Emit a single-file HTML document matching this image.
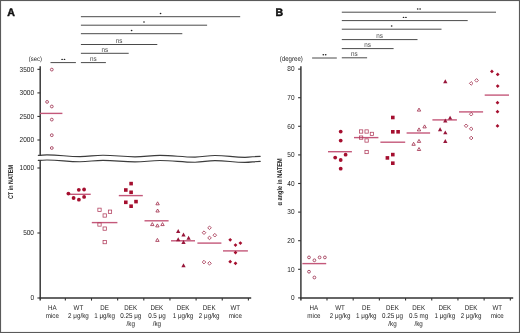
<!DOCTYPE html>
<html><head><meta charset="utf-8">
<style>
html,body{margin:0;padding:0;background:#fff;}
body{width:520px;height:333px;overflow:hidden;}
svg{display:block;font-family:"Liberation Sans",sans-serif;text-rendering:geometricPrecision;}
svg{will-change:transform;filter:blur(0.25px);}
</style></head>
<body>
<svg width="520" height="333" viewBox="0 0 520 333">
<rect x="0.5" y="0.5" width="519" height="332" fill="#fff" stroke="#5a5a5a" stroke-width="1.15"/>
<line x1="40.2" y1="66.3" x2="40.2" y2="155.3" stroke="#333" stroke-width="1.45"/>
<line x1="40.2" y1="160.3" x2="40.2" y2="300.4" stroke="#333" stroke-width="1.45"/>
<line x1="39.550000000000004" y1="298.0" x2="251.2" y2="298.0" stroke="#333" stroke-width="1.45"/>
<line x1="65.35" y1="298.0" x2="65.35" y2="300.6" stroke="#333" stroke-width="1.1"/>
<line x1="91.5" y1="298.0" x2="91.5" y2="300.6" stroke="#333" stroke-width="1.1"/>
<line x1="117.64999999999999" y1="298.0" x2="117.64999999999999" y2="300.6" stroke="#333" stroke-width="1.1"/>
<line x1="143.8" y1="298.0" x2="143.8" y2="300.6" stroke="#333" stroke-width="1.1"/>
<line x1="169.95" y1="298.0" x2="169.95" y2="300.6" stroke="#333" stroke-width="1.1"/>
<line x1="196.09999999999997" y1="298.0" x2="196.09999999999997" y2="300.6" stroke="#333" stroke-width="1.1"/>
<line x1="222.25" y1="298.0" x2="222.25" y2="300.6" stroke="#333" stroke-width="1.1"/>
<line x1="248.39999999999998" y1="298.0" x2="248.39999999999998" y2="300.6" stroke="#333" stroke-width="1.1"/>
<line x1="37.400000000000006" y1="140.0" x2="40.2" y2="140.0" stroke="#333" stroke-width="1.1"/>
<text transform="translate(34.00,142.35) scale(1,1.12)" font-size="6.5" text-anchor="end" font-weight="normal" fill="#222" >2000</text>
<line x1="37.400000000000006" y1="116.45" x2="40.2" y2="116.45" stroke="#333" stroke-width="1.1"/>
<text transform="translate(34.00,118.80) scale(1,1.12)" font-size="6.5" text-anchor="end" font-weight="normal" fill="#222" >2500</text>
<line x1="37.400000000000006" y1="92.9" x2="40.2" y2="92.9" stroke="#333" stroke-width="1.1"/>
<text transform="translate(34.00,95.25) scale(1,1.12)" font-size="6.5" text-anchor="end" font-weight="normal" fill="#222" >3000</text>
<line x1="37.400000000000006" y1="69.35" x2="40.2" y2="69.35" stroke="#333" stroke-width="1.1"/>
<text transform="translate(34.00,71.70) scale(1,1.12)" font-size="6.5" text-anchor="end" font-weight="normal" fill="#222" >3500</text>
<line x1="37.400000000000006" y1="298.0" x2="40.2" y2="298.0" stroke="#333" stroke-width="1.1"/>
<text transform="translate(34.00,300.35) scale(1,1.12)" font-size="6.5" text-anchor="end" font-weight="normal" fill="#222" >0</text>
<line x1="37.400000000000006" y1="233.0" x2="40.2" y2="233.0" stroke="#333" stroke-width="1.1"/>
<text transform="translate(34.00,235.35) scale(1,1.12)" font-size="6.5" text-anchor="end" font-weight="normal" fill="#222" >500</text>
<line x1="37.400000000000006" y1="168.0" x2="40.2" y2="168.0" stroke="#333" stroke-width="1.1"/>
<text transform="translate(34.00,170.35) scale(1,1.12)" font-size="6.5" text-anchor="end" font-weight="normal" fill="#222" >1000</text>
<text transform="translate(35.40,61.30) scale(1,1.12)" font-size="5.9" text-anchor="middle" font-weight="normal" fill="#222" >(sec)</text>
<path d="M38.30,155.30 C41.78,155.30 43.52,154.90 47.00,154.90 C60.20,154.90 66.80,156.60 80.00,156.60 C89.20,156.60 93.80,155.20 103.00,155.20 C115.80,155.20 122.20,156.80 135.00,156.80 C145.00,156.80 150.00,155.40 160.00,155.40 C174.00,155.40 181.00,157.10 195.00,157.10 C203.00,157.10 207.00,155.50 215.00,155.50 C227.00,155.50 233.00,157.30 245.00,157.30 C251.08,157.30 254.12,156.30 260.20,156.30" fill="none" stroke="#3c3c3c" stroke-width="1.15" stroke-linecap="round"/>
<path d="M38.30,160.40 C41.78,160.40 43.52,160.00 47.00,160.00 C60.20,160.00 66.80,161.70 80.00,161.70 C89.20,161.70 93.80,160.30 103.00,160.30 C115.80,160.30 122.20,161.90 135.00,161.90 C145.00,161.90 150.00,160.50 160.00,160.50 C174.00,160.50 181.00,162.20 195.00,162.20 C203.00,162.20 207.00,160.60 215.00,160.60 C227.00,160.60 233.00,162.40 245.00,162.40 C251.08,162.40 254.12,161.40 260.20,161.40" fill="none" stroke="#3c3c3c" stroke-width="1.15" stroke-linecap="round"/>
<text transform="translate(7.30,16.30) scale(1,1.03)" font-size="10.6" text-anchor="start" font-weight="bold" fill="#111" stroke="#111" stroke-width="0.45">A</text>
<text transform="translate(13.3,182.1) rotate(-90) scale(0.8,1)" font-size="6.8" text-anchor="middle" font-weight="bold" fill="#222">CT in NATEM</text>
<text transform="translate(52.28,309.80) scale(1,1.12)" font-size="6.2" text-anchor="middle" font-weight="normal" fill="#222" >HA</text>
<text transform="translate(52.28,317.90) scale(1,1.12)" font-size="6.25" text-anchor="middle" font-weight="normal" fill="#222" >mice</text>
<text transform="translate(78.43,309.80) scale(1,1.12)" font-size="6.2" text-anchor="middle" font-weight="normal" fill="#222" >WT</text>
<text transform="translate(78.43,317.90) scale(1,1.12)" font-size="6.25" text-anchor="middle" font-weight="normal" fill="#222" >2 μg/kg</text>
<text transform="translate(104.58,309.80) scale(1,1.12)" font-size="6.2" text-anchor="middle" font-weight="normal" fill="#222" >DE</text>
<text transform="translate(104.58,317.90) scale(1,1.12)" font-size="6.25" text-anchor="middle" font-weight="normal" fill="#222" >1 μg/kg</text>
<text transform="translate(130.73,309.80) scale(1,1.12)" font-size="6.2" text-anchor="middle" font-weight="normal" fill="#222" >DEK</text>
<text transform="translate(130.73,317.90) scale(1,1.12)" font-size="6.25" text-anchor="middle" font-weight="normal" fill="#222" >0.25 μg</text>
<text transform="translate(130.73,325.50) scale(1,1.12)" font-size="6.25" text-anchor="middle" font-weight="normal" fill="#222" >/kg</text>
<text transform="translate(156.88,309.80) scale(1,1.12)" font-size="6.2" text-anchor="middle" font-weight="normal" fill="#222" >DEK</text>
<text transform="translate(156.88,317.90) scale(1,1.12)" font-size="6.25" text-anchor="middle" font-weight="normal" fill="#222" >0.5 μg</text>
<text transform="translate(156.88,325.50) scale(1,1.12)" font-size="6.25" text-anchor="middle" font-weight="normal" fill="#222" >/kg</text>
<text transform="translate(183.03,309.80) scale(1,1.12)" font-size="6.2" text-anchor="middle" font-weight="normal" fill="#222" >DEK</text>
<text transform="translate(183.03,317.90) scale(1,1.12)" font-size="6.25" text-anchor="middle" font-weight="normal" fill="#222" >1 μg/kg</text>
<text transform="translate(209.18,309.80) scale(1,1.12)" font-size="6.2" text-anchor="middle" font-weight="normal" fill="#222" >DEK</text>
<text transform="translate(209.18,317.90) scale(1,1.12)" font-size="6.25" text-anchor="middle" font-weight="normal" fill="#222" >2 μg/kg</text>
<text transform="translate(235.33,309.80) scale(1,1.12)" font-size="6.2" text-anchor="middle" font-weight="normal" fill="#222" >WT</text>
<text transform="translate(235.33,317.90) scale(1,1.12)" font-size="6.25" text-anchor="middle" font-weight="normal" fill="#222" >mice</text>
<line x1="39.9" y1="113.4" x2="62.4" y2="113.4" stroke="#c4587a" stroke-width="1.4"/>
<circle cx="51.8" cy="69.6" r="1.4" fill="none" stroke="#9e3352" stroke-width="0.85"/>
<circle cx="47.1" cy="101.9" r="1.4" fill="none" stroke="#9e3352" stroke-width="0.85"/>
<circle cx="51.8" cy="106.5" r="1.4" fill="none" stroke="#9e3352" stroke-width="0.85"/>
<circle cx="51.8" cy="119.6" r="1.4" fill="none" stroke="#9e3352" stroke-width="0.85"/>
<circle cx="51.8" cy="135.2" r="1.4" fill="none" stroke="#9e3352" stroke-width="0.85"/>
<circle cx="51.8" cy="148.0" r="1.4" fill="none" stroke="#9e3352" stroke-width="0.85"/>
<line x1="67.2" y1="194.3" x2="90.7" y2="194.3" stroke="#c4587a" stroke-width="1.4"/>
<circle cx="68.4" cy="193.6" r="1.9" fill="#a50f2f"/>
<circle cx="78.8" cy="189.8" r="1.9" fill="#a50f2f"/>
<circle cx="84.1" cy="189.5" r="1.9" fill="#a50f2f"/>
<circle cx="73.6" cy="198.0" r="1.9" fill="#a50f2f"/>
<circle cx="78.9" cy="199.7" r="1.9" fill="#a50f2f"/>
<circle cx="84.1" cy="196.9" r="1.9" fill="#a50f2f"/>
<line x1="91.8" y1="222.6" x2="117.4" y2="222.6" stroke="#c4587a" stroke-width="1.4"/>
<rect x="97.85" y="208.15" width="3.3" height="3.3" fill="none" stroke="#b03a5a" stroke-width="0.75"/>
<rect x="108.35" y="210.04999999999998" width="3.3" height="3.3" fill="none" stroke="#b03a5a" stroke-width="0.75"/>
<rect x="103.05" y="213.85" width="3.3" height="3.3" fill="none" stroke="#b03a5a" stroke-width="0.75"/>
<rect x="97.85" y="222.85" width="3.3" height="3.3" fill="none" stroke="#b03a5a" stroke-width="0.75"/>
<rect x="103.05" y="226.95" width="3.3" height="3.3" fill="none" stroke="#b03a5a" stroke-width="0.75"/>
<rect x="103.05" y="240.45" width="3.3" height="3.3" fill="none" stroke="#b03a5a" stroke-width="0.75"/>
<line x1="118.8" y1="195.6" x2="142.8" y2="195.6" stroke="#c4587a" stroke-width="1.4"/>
<rect x="129.29999999999998" y="181.79999999999998" width="3.6" height="3.6" fill="#a50f2f"/>
<rect x="124.0" y="188.2" width="3.6" height="3.6" fill="#a50f2f"/>
<rect x="129.29999999999998" y="190.5" width="3.6" height="3.6" fill="#a50f2f"/>
<rect x="124.0" y="200.5" width="3.6" height="3.6" fill="#a50f2f"/>
<rect x="134.2" y="199.79999999999998" width="3.6" height="3.6" fill="#a50f2f"/>
<rect x="129.29999999999998" y="204.39999999999998" width="3.6" height="3.6" fill="#a50f2f"/>
<line x1="144.5" y1="220.8" x2="168.6" y2="220.8" stroke="#c4587a" stroke-width="1.4"/>
<path d="M155.9,204.8L157.6,201.8L159.29999999999998,204.8Z" fill="none" stroke="#a02848" stroke-width="0.8" stroke-linejoin="miter"/>
<path d="M155.9,212.0L157.6,209.0L159.29999999999998,212.0Z" fill="none" stroke="#a02848" stroke-width="0.8" stroke-linejoin="miter"/>
<path d="M150.60000000000002,225.6L152.3,222.6L154.0,225.6Z" fill="none" stroke="#a02848" stroke-width="0.8" stroke-linejoin="miter"/>
<path d="M155.70000000000002,226.9L157.4,223.9L159.1,226.9Z" fill="none" stroke="#a02848" stroke-width="0.8" stroke-linejoin="miter"/>
<path d="M160.8,225.6L162.5,222.6L164.2,225.6Z" fill="none" stroke="#a02848" stroke-width="0.8" stroke-linejoin="miter"/>
<path d="M155.70000000000002,241.4L157.4,238.4L159.1,241.4Z" fill="none" stroke="#a02848" stroke-width="0.8" stroke-linejoin="miter"/>
<line x1="171.0" y1="240.8" x2="195.0" y2="240.8" stroke="#c4587a" stroke-width="1.4"/>
<path d="M176.04999999999998,232.95L178.2,229.05L180.35,232.95Z" fill="#98163a"/>
<path d="M181.35,236.45L183.5,232.55L185.65,236.45Z" fill="#98163a"/>
<path d="M186.45,239.75L188.6,235.85000000000002L190.75,239.75Z" fill="#98163a"/>
<path d="M176.04999999999998,241.25L178.2,237.35000000000002L180.35,241.25Z" fill="#98163a"/>
<path d="M181.35,243.95L183.5,240.05L185.65,243.95Z" fill="#98163a"/>
<path d="M181.35,267.25L183.5,263.35L185.65,267.25Z" fill="#98163a"/>
<line x1="197.4" y1="243.1" x2="221.4" y2="243.1" stroke="#c4587a" stroke-width="1.4"/>
<path d="M209.5,226.0L211.3,227.8L209.5,229.60000000000002L207.7,227.8Z" fill="none" stroke="#a02848" stroke-width="0.8"/>
<path d="M204.0,230.89999999999998L205.8,232.7L204.0,234.5L202.2,232.7Z" fill="none" stroke="#a02848" stroke-width="0.8"/>
<path d="M214.8,233.39999999999998L216.60000000000002,235.2L214.8,237.0L213.0,235.2Z" fill="none" stroke="#a02848" stroke-width="0.8"/>
<path d="M209.5,236.1L211.3,237.9L209.5,239.70000000000002L207.7,237.9Z" fill="none" stroke="#a02848" stroke-width="0.8"/>
<path d="M204.0,260.3L205.8,262.1L204.0,263.90000000000003L202.2,262.1Z" fill="none" stroke="#a02848" stroke-width="0.8"/>
<path d="M209.5,261.5L211.3,263.3L209.5,265.1L207.7,263.3Z" fill="none" stroke="#a02848" stroke-width="0.8"/>
<line x1="223.0" y1="250.9" x2="247.9" y2="250.9" stroke="#c4587a" stroke-width="1.4"/>
<path d="M230.2,237.9L232.1,239.8L230.2,241.70000000000002L228.29999999999998,239.8Z" fill="#a50f2f"/>
<path d="M240.4,241.2L242.3,243.1L240.4,245.0L238.5,243.1Z" fill="#a50f2f"/>
<path d="M235.5,243.2L237.4,245.1L235.5,247.0L233.6,245.1Z" fill="#a50f2f"/>
<path d="M235.5,250.7L237.4,252.6L235.5,254.5L233.6,252.6Z" fill="#a50f2f"/>
<path d="M230.2,259.8L232.1,261.7L230.2,263.59999999999997L228.29999999999998,261.7Z" fill="#a50f2f"/>
<path d="M235.5,261.40000000000003L237.4,263.3L235.5,265.2L233.6,263.3Z" fill="#a50f2f"/>
<line x1="50.5" y1="62.6" x2="75.9" y2="62.6" stroke="#4a4a4a" stroke-width="1.0"/>
<ellipse cx="62.10" cy="59.40" rx="0.85" ry="0.7" fill="#222"/>
<ellipse cx="64.50" cy="59.40" rx="0.85" ry="0.7" fill="#222"/>
<line x1="80.9" y1="16.7" x2="240.2" y2="16.7" stroke="#4a4a4a" stroke-width="1.0"/>
<ellipse cx="160.55" cy="13.50" rx="0.85" ry="0.7" fill="#222"/>
<line x1="80.9" y1="25.2" x2="207.1" y2="25.2" stroke="#4a4a4a" stroke-width="1.0"/>
<ellipse cx="144.00" cy="22.00" rx="0.85" ry="0.7" fill="#222"/>
<line x1="80.9" y1="33.7" x2="182.3" y2="33.7" stroke="#4a4a4a" stroke-width="1.0"/>
<ellipse cx="131.60" cy="30.50" rx="0.85" ry="0.7" fill="#222"/>
<line x1="80.9" y1="44.5" x2="157.3" y2="44.5" stroke="#4a4a4a" stroke-width="1.0"/>
<text transform="translate(119.10,42.75) scale(1,1.12)" font-size="6.3" text-anchor="middle" font-weight="normal" fill="#484848" >ns</text>
<line x1="80.9" y1="53.3" x2="128.7" y2="53.3" stroke="#4a4a4a" stroke-width="1.0"/>
<text transform="translate(104.80,51.55) scale(1,1.12)" font-size="6.3" text-anchor="middle" font-weight="normal" fill="#484848" >ns</text>
<line x1="80.9" y1="62.6" x2="105.9" y2="62.6" stroke="#4a4a4a" stroke-width="1.0"/>
<text transform="translate(93.40,60.85) scale(1,1.12)" font-size="6.3" text-anchor="middle" font-weight="normal" fill="#484848" >ns</text>
<line x1="300.9" y1="66.3" x2="300.9" y2="300.4" stroke="#333" stroke-width="1.45"/>
<line x1="300.25" y1="298.0" x2="513.2" y2="298.0" stroke="#333" stroke-width="1.45"/>
<line x1="326.99" y1="298.0" x2="326.99" y2="300.6" stroke="#333" stroke-width="1.1"/>
<line x1="353.18" y1="298.0" x2="353.18" y2="300.6" stroke="#333" stroke-width="1.1"/>
<line x1="379.37" y1="298.0" x2="379.37" y2="300.6" stroke="#333" stroke-width="1.1"/>
<line x1="405.56" y1="298.0" x2="405.56" y2="300.6" stroke="#333" stroke-width="1.1"/>
<line x1="431.75" y1="298.0" x2="431.75" y2="300.6" stroke="#333" stroke-width="1.1"/>
<line x1="457.94000000000005" y1="298.0" x2="457.94000000000005" y2="300.6" stroke="#333" stroke-width="1.1"/>
<line x1="484.13" y1="298.0" x2="484.13" y2="300.6" stroke="#333" stroke-width="1.1"/>
<line x1="510.32000000000005" y1="298.0" x2="510.32000000000005" y2="300.6" stroke="#333" stroke-width="1.1"/>
<line x1="298.09999999999997" y1="297.9" x2="300.9" y2="297.9" stroke="#333" stroke-width="1.1"/>
<text transform="translate(294.60,300.25) scale(1,1.12)" font-size="6.5" text-anchor="end" font-weight="normal" fill="#222" >0</text>
<line x1="298.09999999999997" y1="269.29999999999995" x2="300.9" y2="269.29999999999995" stroke="#333" stroke-width="1.1"/>
<text transform="translate(294.60,271.65) scale(1,1.12)" font-size="6.5" text-anchor="end" font-weight="normal" fill="#222" >10</text>
<line x1="298.09999999999997" y1="240.7" x2="300.9" y2="240.7" stroke="#333" stroke-width="1.1"/>
<text transform="translate(294.60,243.05) scale(1,1.12)" font-size="6.5" text-anchor="end" font-weight="normal" fill="#222" >20</text>
<line x1="298.09999999999997" y1="212.09999999999997" x2="300.9" y2="212.09999999999997" stroke="#333" stroke-width="1.1"/>
<text transform="translate(294.60,214.45) scale(1,1.12)" font-size="6.5" text-anchor="end" font-weight="normal" fill="#222" >30</text>
<line x1="298.09999999999997" y1="183.5" x2="300.9" y2="183.5" stroke="#333" stroke-width="1.1"/>
<text transform="translate(294.60,185.85) scale(1,1.12)" font-size="6.5" text-anchor="end" font-weight="normal" fill="#222" >40</text>
<line x1="298.09999999999997" y1="154.89999999999998" x2="300.9" y2="154.89999999999998" stroke="#333" stroke-width="1.1"/>
<text transform="translate(294.60,157.25) scale(1,1.12)" font-size="6.5" text-anchor="end" font-weight="normal" fill="#222" >50</text>
<line x1="298.09999999999997" y1="126.29999999999998" x2="300.9" y2="126.29999999999998" stroke="#333" stroke-width="1.1"/>
<text transform="translate(294.60,128.65) scale(1,1.12)" font-size="6.5" text-anchor="end" font-weight="normal" fill="#222" >60</text>
<line x1="298.09999999999997" y1="97.69999999999999" x2="300.9" y2="97.69999999999999" stroke="#333" stroke-width="1.1"/>
<text transform="translate(294.60,100.05) scale(1,1.12)" font-size="6.5" text-anchor="end" font-weight="normal" fill="#222" >70</text>
<line x1="298.09999999999997" y1="69.1" x2="300.9" y2="69.1" stroke="#333" stroke-width="1.1"/>
<text transform="translate(294.60,71.45) scale(1,1.12)" font-size="6.5" text-anchor="end" font-weight="normal" fill="#222" >80</text>
<text transform="translate(291.30,60.90) scale(1,1.12)" font-size="6.1" text-anchor="middle" font-weight="normal" fill="#222" >(degree)</text>
<text transform="translate(275.60,16.30) scale(1,1.03)" font-size="10.6" text-anchor="start" font-weight="bold" fill="#111" stroke="#111" stroke-width="0.45">B</text>
<text transform="translate(282.4,181.9) rotate(-90) scale(0.8,1)" font-size="7.0" text-anchor="middle" font-weight="bold" fill="#222">α angle in NATEM</text>
<text transform="translate(313.90,309.80) scale(1,1.12)" font-size="6.2" text-anchor="middle" font-weight="normal" fill="#222" >HA</text>
<text transform="translate(313.90,317.90) scale(1,1.12)" font-size="6.25" text-anchor="middle" font-weight="normal" fill="#222" >mice</text>
<text transform="translate(340.09,309.80) scale(1,1.12)" font-size="6.2" text-anchor="middle" font-weight="normal" fill="#222" >WT</text>
<text transform="translate(340.09,317.90) scale(1,1.12)" font-size="6.25" text-anchor="middle" font-weight="normal" fill="#222" >2 μg/kg</text>
<text transform="translate(366.28,309.80) scale(1,1.12)" font-size="6.2" text-anchor="middle" font-weight="normal" fill="#222" >DE</text>
<text transform="translate(366.28,317.90) scale(1,1.12)" font-size="6.25" text-anchor="middle" font-weight="normal" fill="#222" >1 μg/kg</text>
<text transform="translate(392.47,309.80) scale(1,1.12)" font-size="6.2" text-anchor="middle" font-weight="normal" fill="#222" >DEK</text>
<text transform="translate(392.47,317.90) scale(1,1.12)" font-size="6.25" text-anchor="middle" font-weight="normal" fill="#222" >0.25 μg</text>
<text transform="translate(392.47,325.50) scale(1,1.12)" font-size="6.25" text-anchor="middle" font-weight="normal" fill="#222" >/kg</text>
<text transform="translate(418.66,309.80) scale(1,1.12)" font-size="6.2" text-anchor="middle" font-weight="normal" fill="#222" >DEK</text>
<text transform="translate(418.66,317.90) scale(1,1.12)" font-size="6.25" text-anchor="middle" font-weight="normal" fill="#222" >0.5 mg</text>
<text transform="translate(418.66,325.50) scale(1,1.12)" font-size="6.25" text-anchor="middle" font-weight="normal" fill="#222" >/kg</text>
<text transform="translate(444.85,309.80) scale(1,1.12)" font-size="6.2" text-anchor="middle" font-weight="normal" fill="#222" >DEK</text>
<text transform="translate(444.85,317.90) scale(1,1.12)" font-size="6.25" text-anchor="middle" font-weight="normal" fill="#222" >1 μg/kg</text>
<text transform="translate(471.04,309.80) scale(1,1.12)" font-size="6.2" text-anchor="middle" font-weight="normal" fill="#222" >DEK</text>
<text transform="translate(471.04,317.90) scale(1,1.12)" font-size="6.25" text-anchor="middle" font-weight="normal" fill="#222" >2 μg/kg</text>
<text transform="translate(497.23,309.80) scale(1,1.12)" font-size="6.2" text-anchor="middle" font-weight="normal" fill="#222" >WT</text>
<text transform="translate(497.23,317.90) scale(1,1.12)" font-size="6.25" text-anchor="middle" font-weight="normal" fill="#222" >mice</text>
<line x1="302.4" y1="263.6" x2="326.2" y2="263.6" stroke="#c4587a" stroke-width="1.4"/>
<circle cx="309.0" cy="257.4" r="1.4" fill="none" stroke="#9e3352" stroke-width="0.85"/>
<circle cx="314.4" cy="260.3" r="1.4" fill="none" stroke="#9e3352" stroke-width="0.85"/>
<circle cx="319.6" cy="257.4" r="1.4" fill="none" stroke="#9e3352" stroke-width="0.85"/>
<circle cx="324.9" cy="257.4" r="1.4" fill="none" stroke="#9e3352" stroke-width="0.85"/>
<circle cx="309.0" cy="271.7" r="1.4" fill="none" stroke="#9e3352" stroke-width="0.85"/>
<circle cx="314.4" cy="277.5" r="1.4" fill="none" stroke="#9e3352" stroke-width="0.85"/>
<line x1="328.0" y1="151.7" x2="351.9" y2="151.7" stroke="#c4587a" stroke-width="1.4"/>
<circle cx="340.7" cy="131.6" r="1.9" fill="#a50f2f"/>
<circle cx="340.7" cy="140.6" r="1.9" fill="#a50f2f"/>
<circle cx="345.6" cy="154.7" r="1.9" fill="#a50f2f"/>
<circle cx="335.2" cy="157.6" r="1.9" fill="#a50f2f"/>
<circle cx="340.7" cy="160.0" r="1.9" fill="#a50f2f"/>
<circle cx="340.7" cy="168.7" r="1.9" fill="#a50f2f"/>
<line x1="354.0" y1="137.6" x2="378.4" y2="137.6" stroke="#c4587a" stroke-width="1.4"/>
<rect x="359.45000000000005" y="129.85" width="3.3" height="3.3" fill="none" stroke="#b03a5a" stroke-width="0.75"/>
<rect x="364.95000000000005" y="129.85" width="3.3" height="3.3" fill="none" stroke="#b03a5a" stroke-width="0.75"/>
<rect x="370.25" y="132.25" width="3.3" height="3.3" fill="none" stroke="#b03a5a" stroke-width="0.75"/>
<rect x="359.45000000000005" y="135.95" width="3.3" height="3.3" fill="none" stroke="#b03a5a" stroke-width="0.75"/>
<rect x="364.95000000000005" y="138.85" width="3.3" height="3.3" fill="none" stroke="#b03a5a" stroke-width="0.75"/>
<rect x="364.95000000000005" y="150.35" width="3.3" height="3.3" fill="none" stroke="#b03a5a" stroke-width="0.75"/>
<line x1="380.4" y1="142.2" x2="405.2" y2="142.2" stroke="#c4587a" stroke-width="1.4"/>
<rect x="391.0" y="115.7" width="3.6" height="3.6" fill="#a50f2f"/>
<rect x="391.0" y="130.0" width="3.6" height="3.6" fill="#a50f2f"/>
<rect x="396.3" y="130.0" width="3.6" height="3.6" fill="#a50f2f"/>
<rect x="391.0" y="152.79999999999998" width="3.6" height="3.6" fill="#a50f2f"/>
<rect x="385.59999999999997" y="156.1" width="3.6" height="3.6" fill="#a50f2f"/>
<rect x="391.0" y="161.39999999999998" width="3.6" height="3.6" fill="#a50f2f"/>
<line x1="406.6" y1="133.0" x2="430.1" y2="133.0" stroke="#c4587a" stroke-width="1.4"/>
<path d="M417.3,111.1L419.0,108.1L420.7,111.1Z" fill="none" stroke="#a02848" stroke-width="0.8" stroke-linejoin="miter"/>
<path d="M422.90000000000003,127.9L424.6,124.9L426.3,127.9Z" fill="none" stroke="#a02848" stroke-width="0.8" stroke-linejoin="miter"/>
<path d="M417.3,130.9L419.0,127.9L420.7,130.9Z" fill="none" stroke="#a02848" stroke-width="0.8" stroke-linejoin="miter"/>
<path d="M417.3,142.4L419.0,139.4L420.7,142.4Z" fill="none" stroke="#a02848" stroke-width="0.8" stroke-linejoin="miter"/>
<path d="M411.90000000000003,145.3L413.6,142.3L415.3,145.3Z" fill="none" stroke="#a02848" stroke-width="0.8" stroke-linejoin="miter"/>
<path d="M417.3,150.5L419.0,147.5L420.7,150.5Z" fill="none" stroke="#a02848" stroke-width="0.8" stroke-linejoin="miter"/>
<line x1="432.4" y1="119.9" x2="456.9" y2="119.9" stroke="#c4587a" stroke-width="1.4"/>
<path d="M443.15000000000003,83.15L445.3,79.25L447.45,83.15Z" fill="#98163a"/>
<path d="M447.95000000000005,119.55L450.1,115.64999999999999L452.25,119.55Z" fill="#98163a"/>
<path d="M443.15000000000003,122.45L445.3,118.55L447.45,122.45Z" fill="#98163a"/>
<path d="M437.95000000000005,131.14999999999998L440.1,127.24999999999999L442.25,131.14999999999998Z" fill="#98163a"/>
<path d="M443.15000000000003,134.35L445.3,130.45000000000002L447.45,134.35Z" fill="#98163a"/>
<path d="M443.15000000000003,142.95L445.3,139.05L447.45,142.95Z" fill="#98163a"/>
<line x1="459.0" y1="111.9" x2="483.1" y2="111.9" stroke="#c4587a" stroke-width="1.4"/>
<path d="M476.6,78.60000000000001L478.40000000000003,80.4L476.6,82.2L474.8,80.4Z" fill="none" stroke="#a02848" stroke-width="0.8"/>
<path d="M471.2,81.60000000000001L473.0,83.4L471.2,85.2L469.4,83.4Z" fill="none" stroke="#a02848" stroke-width="0.8"/>
<path d="M471.2,112.4L473.0,114.2L471.2,116.0L469.4,114.2Z" fill="none" stroke="#a02848" stroke-width="0.8"/>
<path d="M466.1,124.0L467.90000000000003,125.8L466.1,127.6L464.3,125.8Z" fill="none" stroke="#a02848" stroke-width="0.8"/>
<path d="M471.2,127.00000000000001L473.0,128.8L471.2,130.60000000000002L469.4,128.8Z" fill="none" stroke="#a02848" stroke-width="0.8"/>
<path d="M471.2,136.2L473.0,138.0L471.2,139.8L469.4,138.0Z" fill="none" stroke="#a02848" stroke-width="0.8"/>
<line x1="484.7" y1="95.1" x2="509.0" y2="95.1" stroke="#c4587a" stroke-width="1.4"/>
<path d="M491.9,69.5L493.79999999999995,71.4L491.9,73.30000000000001L490.0,71.4Z" fill="#a50f2f"/>
<path d="M497.7,72.5L499.59999999999997,74.4L497.7,76.30000000000001L495.8,74.4Z" fill="#a50f2f"/>
<path d="M497.7,84.19999999999999L499.59999999999997,86.1L497.7,88.0L495.8,86.1Z" fill="#a50f2f"/>
<path d="M497.5,100.8L499.4,102.7L497.5,104.60000000000001L495.6,102.7Z" fill="#a50f2f"/>
<path d="M497.5,109.8L499.4,111.7L497.5,113.60000000000001L495.6,111.7Z" fill="#a50f2f"/>
<path d="M497.5,124.0L499.4,125.9L497.5,127.80000000000001L495.6,125.9Z" fill="#a50f2f"/>
<line x1="312.1" y1="58.0" x2="336.8" y2="58.0" stroke="#4a4a4a" stroke-width="1.0"/>
<ellipse cx="323.30" cy="54.80" rx="0.85" ry="0.7" fill="#222"/>
<ellipse cx="325.70" cy="54.80" rx="0.85" ry="0.7" fill="#222"/>
<line x1="341.8" y1="12.2" x2="496.0" y2="12.2" stroke="#4a4a4a" stroke-width="1.0"/>
<ellipse cx="417.70" cy="9.00" rx="0.85" ry="0.7" fill="#222"/>
<ellipse cx="420.10" cy="9.00" rx="0.85" ry="0.7" fill="#222"/>
<line x1="341.8" y1="20.6" x2="467.7" y2="20.6" stroke="#4a4a4a" stroke-width="1.0"/>
<ellipse cx="403.55" cy="17.40" rx="0.85" ry="0.7" fill="#222"/>
<ellipse cx="405.95" cy="17.40" rx="0.85" ry="0.7" fill="#222"/>
<line x1="341.8" y1="29.2" x2="441.5" y2="29.2" stroke="#4a4a4a" stroke-width="1.0"/>
<ellipse cx="391.65" cy="26.00" rx="0.85" ry="0.7" fill="#222"/>
<line x1="341.8" y1="39.6" x2="417.5" y2="39.6" stroke="#4a4a4a" stroke-width="1.0"/>
<text transform="translate(379.65,37.85) scale(1,1.12)" font-size="6.3" text-anchor="middle" font-weight="normal" fill="#484848" >ns</text>
<line x1="341.8" y1="48.6" x2="393.6" y2="48.6" stroke="#4a4a4a" stroke-width="1.0"/>
<text transform="translate(367.70,46.85) scale(1,1.12)" font-size="6.3" text-anchor="middle" font-weight="normal" fill="#484848" >ns</text>
<line x1="341.8" y1="57.8" x2="367.1" y2="57.8" stroke="#4a4a4a" stroke-width="1.0"/>
<text transform="translate(354.45,56.05) scale(1,1.12)" font-size="6.3" text-anchor="middle" font-weight="normal" fill="#484848" >ns</text>
</svg>
</body></html>
